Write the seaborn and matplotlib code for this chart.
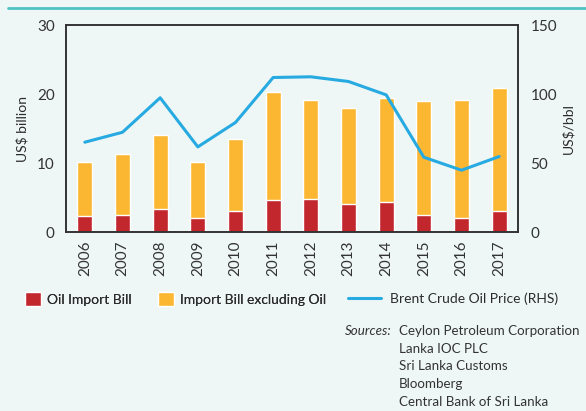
import pandas as pd
import numpy as np
import seaborn as sns
import matplotlib.pyplot as plt
from matplotlib.patches import Patch
from matplotlib.lines import Line2D

years = ['2006', '2007', '2008', '2009', '2010', '2011',
         '2012', '2013', '2014', '2015', '2016', '2017']
oil_bill = [2.3, 2.4, 3.3, 2.1, 3.0, 4.6, 4.8, 4.1, 4.4, 2.4, 2.1, 3.0]
total_bill = [10.2, 11.3, 14.0, 10.1, 13.5, 20.3, 19.1, 18.0, 19.4, 19.0, 19.1, 20.9]
brent = [65.1, 72.3, 97.3, 61.7, 79.4, 112.0, 112.5, 109.1, 99.4, 54.2, 44.8, 54.7]

bg = '#eef7f5'
c_oil = '#c1272d'
c_rest = '#fbb731'
c_line = '#27aae1'
txt = '#2b2b2b'

df = pd.DataFrame({'year': years, 'oil': oil_bill, 'total': total_bill, 'brent': brent})
df['pos'] = np.arange(len(df))

sns.set_style('white')
plt.rcParams['font.family'] = ['Lato', 'DejaVu Sans']

fig = plt.figure(figsize=(5.86, 4.11), dpi=100, facecolor=bg)
ax1 = fig.add_axes([0.1126, 0.4355, 0.7714, 0.5035])
ax1.set_facecolor(bg)

# stacked bars: total (orange) behind, oil (red) on top
sns.barplot(data=df, x='year', y='total', color=c_rest, width=0.4,
            saturation=1, ax=ax1)
sns.barplot(data=df, x='year', y='oil', color=c_oil, width=0.4,
            saturation=1, ax=ax1)
ax1.set_ylim(0, 30)
ax1.set_xlim(-0.5, 11.5)
ax1.set_yticks([0, 10, 20, 30])
ax1.set_xlabel('')
ax1.set_ylabel('US$ billion', fontsize=10, color=txt)
ax1.yaxis.set_label_coords(-0.084, 0.5)
ax1.tick_params(axis='x', labelrotation=90, labelsize=11, colors='#333333', length=0, pad=6)
ax1.tick_params(axis='y', labelsize=11, colors='#333333', length=0, pad=8)

ax2 = ax1.twinx()
sns.lineplot(data=df, x='pos', y='brent', color=c_line, linewidth=2.2, ax=ax2)
ax2.set_ylim(0, 150)
ax2.set_xlim(-0.5, 11.5)
ax2.set_yticks([0, 50, 100, 150])
ax2.set_ylabel('US$/bbl', fontsize=10, color=txt)
ax2.yaxis.set_label_coords(1.096, 0.5)
ax2.tick_params(axis='y', labelsize=11, colors='#333333', length=0, pad=9)
ax2.set_xlabel('')

for ax in (ax1, ax2):
    for s in ax.spines.values():
        s.set_color('#333333')
        s.set_linewidth(1.2)

# teal rule at the top
fig.add_artist(Line2D([8 / 586, 1.0], [1 - 8.5 / 411] * 2, color='#4fc3c3',
                      linewidth=2, transform=fig.transFigure))

ly = 1 - 299 / 411
leg1 = fig.legend(handles=[Patch(facecolor=c_oil, label='Oil Import Bill'),
                           Patch(facecolor=c_rest, label='Import Bill excluding Oil')],
                  loc='center left', bbox_to_anchor=(25 / 586, ly), ncol=2,
                  frameon=False, fontsize=10, handlelength=1.15, handleheight=1.15,
                  handletextpad=0.45, columnspacing=1.85, borderpad=0, borderaxespad=0)
for t in leg1.get_texts():
    t.set_color(txt)
leg2 = fig.legend(handles=[Line2D([], [], color=c_line, linewidth=2.2,
                                  label='Brent Crude Oil Price (RHS)')],
                  loc='center left', bbox_to_anchor=(348 / 586, ly),
                  frameon=False, fontsize=10, handlelength=2.4,
                  handletextpad=0.65, borderpad=0, borderaxespad=0)
for t in leg2.get_texts():
    t.set_color(txt)
fig.add_artist(leg1)

fig.text(345 / 586, 1 - 331 / 411, 'Sources:', fontsize=9.6, style='italic',
         color='#333333', va='center')
src = ['Ceylon Petroleum Corporation', 'Lanka IOC PLC', 'Sri Lanka Customs',
       'Bloomberg', 'Central Bank of Sri Lanka']
for i, s in enumerate(src):
    fig.text(399 / 586, 1 - (331 + i * 17.7) / 411, s, fontsize=9.6,
             color='#333333', va='center')

fig.savefig('out.png', dpi=100, facecolor=bg)
